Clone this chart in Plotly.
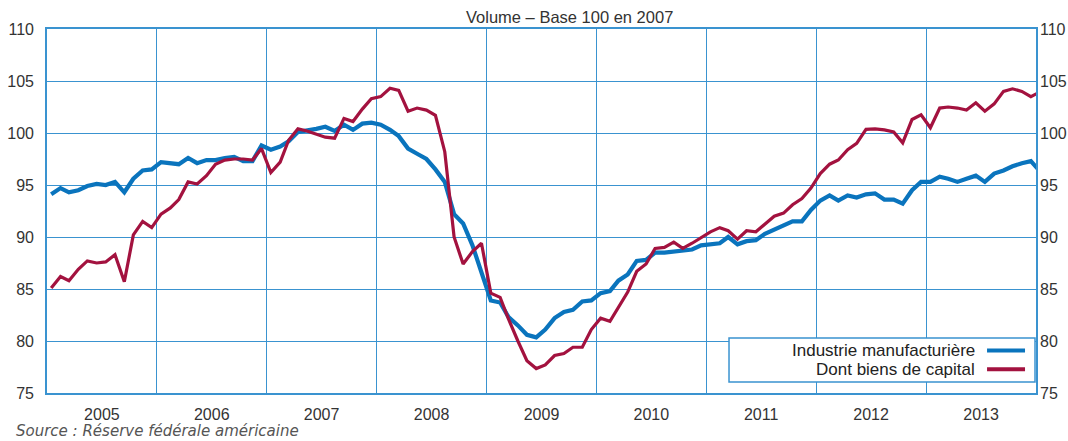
import pandas as pd
import plotly.graph_objects as go

# Monthly observations, Jan 2005 .. Jan 2014 (mid-month)
months = pd.date_range("2005-01-01", periods=109, freq="MS") + pd.Timedelta(days=14)

industrie = [
    94.1, 94.7, 94.3, 94.5, 94.9, 95.1, 95.0, 95.3, 94.3, 95.6, 96.4, 96.5,   # 2005
    97.2, 97.1, 97.0, 97.6, 97.1, 97.4, 97.4, 97.6, 97.7, 97.3, 97.3, 98.8,   # 2006
    98.4, 98.7, 99.2, 100.1, 100.2, 100.4, 100.6, 100.2, 100.8, 100.3, 100.9, 101.0,  # 2007
    100.8, 100.3, 99.7, 98.5, 98.0, 97.5, 96.5, 95.3, 92.2, 91.3, 89.2, 86.5,  # 2008
    83.9, 83.7, 82.3, 81.5, 80.6, 80.35, 81.1, 82.2, 82.8, 83.0, 83.8, 83.9,  # 2009
    84.6, 84.8, 85.8, 86.4, 87.7, 87.8, 88.5, 88.5, 88.6, 88.7, 88.8, 89.2,   # 2010
    89.3, 89.4, 90.0, 89.3, 89.6, 89.7, 90.3, 90.7, 91.1, 91.5, 91.5, 92.6,   # 2011
    93.5, 94.0, 93.5, 94.0, 93.8, 94.1, 94.2, 93.6, 93.6, 93.2, 94.5, 95.3,   # 2012
    95.3, 95.8, 95.6, 95.3, 95.6, 95.9, 95.3, 96.1, 96.4, 96.8, 97.1, 97.3,   # 2013
    96.3,                                                                     # Jan 2014
]

biens_capital = [
    85.1, 86.2, 85.8, 86.9, 87.7, 87.5, 87.6, 88.3, 85.7, 90.2, 91.5, 90.9,   # 2005
    92.2, 92.8, 93.6, 95.3, 95.1, 95.9, 97.0, 97.4, 97.5, 97.5, 97.4, 98.5,   # 2006
    96.2, 97.2, 99.3, 100.4, 100.2, 99.9, 99.6, 99.5, 101.4, 101.1, 102.3, 103.3,  # 2007
    103.5, 104.3, 104.1, 102.1, 102.4, 102.2, 101.7, 98.2, 90.0, 87.4, 88.6, 89.4,  # 2008
    84.6, 84.2, 82.1, 80.0, 78.1, 77.35, 77.7, 78.6, 78.8, 79.4, 79.4, 81.1,  # 2009
    82.2, 81.9, 83.3, 84.7, 86.7, 87.4, 88.9, 89.0, 89.5, 88.9, 89.4, 89.9,   # 2010
    90.5, 90.9, 90.6, 89.8, 90.6, 90.5, 91.2, 92.0, 92.3, 93.1, 93.7, 94.7,   # 2011
    96.1, 97.0, 97.4, 98.4, 99.0, 100.35, 100.4, 100.3, 100.1, 99.05, 101.3, 101.75,  # 2012
    100.5, 102.4, 102.5, 102.4, 102.2, 102.9, 102.1, 102.8, 104.0, 104.25, 104.0, 103.5,  # 2013
    103.95,                                                                   # Jan 2014
]

series_names = ["Industrie manufacturière", "Dont biens de capital"]
y_ticks = [75, 80, 85, 90, 95, 100, 105, 110]
title_text = "Volume \u2013 Base 100 en 2007"
source_text = "Source : Réserve fédérale américaine"

BLUE = "#0a74bd"
RED = "#a3123f"
GRID = "#3a93d0"
FONT = "Liberation Sans, Arial, sans-serif"
TXT = "#333333"

fig = go.Figure()
fig.add_trace(go.Scatter(x=months, y=industrie, mode="lines", name=series_names[0],
                         line=dict(color=BLUE, width=4.2), yaxis="y", showlegend=False))
fig.add_trace(go.Scatter(x=months, y=biens_capital, mode="lines", name=series_names[1],
                         line=dict(color=RED, width=3.2), yaxis="y2", showlegend=False))

axis_common_y = dict(range=[75, 110], tickmode="array", tickvals=y_ticks,
                     tickfont=dict(family=FONT, size=16, color=TXT), ticks="",
                     zeroline=False, fixedrange=True, automargin=False)

fig.update_layout(
    width=1068, height=441,
    margin=dict(l=47, r=32, t=29, b=48, autoexpand=False),
    paper_bgcolor="white", plot_bgcolor="white",
    showlegend=False,
    xaxis=dict(type="date", range=["2005-01-01", "2014-01-01"], dtick="M12",
               tick0="2005-01-01", tickformat="%Y", ticklabelmode="period",
               ticks="", showgrid=True, gridcolor=GRID, gridwidth=1.4,
               showline=True, linecolor=GRID, linewidth=1.6, mirror=True,
               tickfont=dict(family=FONT, size=16, color=TXT),
               ticklabelstandoff=6, zeroline=False, automargin=False),
    yaxis=dict(**axis_common_y, side="left", showgrid=True, gridcolor=GRID, gridwidth=1.4,
               showline=True, linecolor=GRID, linewidth=1.6, mirror=True,
               ticklabelstandoff=8),
    yaxis2=dict(**axis_common_y, side="right", overlaying="y", showgrid=False,
                showline=False, ticklabelstandoff=3),
)

# Title
fig.add_annotation(x=0.528, y=1.0, xref="paper", yref="paper", yanchor="bottom",
                   text=title_text, showarrow=False, yshift=1,
                   font=dict(family=FONT, size=16.5, color=TXT))

# Source
fig.add_annotation(x=-0.033, y=-0.104, xref="paper", yref="paper", xanchor="left",
                   yanchor="middle", text="<i>" + source_text + "</i>", showarrow=False,
                   font=dict(family="DejaVu Sans, Noto Sans, sans-serif", size=15, color="#555555"))

# Custom legend (text on the left, line sample on the right)
fig.add_shape(type="rect", xref="paper", yref="paper", x0=0.6896, x1=0.999,
              y0=0.030, y1=0.151, line=dict(color=GRID, width=1.5), fillcolor="white",
              layer="above")
legend_y = [0.117, 0.065]
for name, color, yy in zip(series_names, [BLUE, RED], legend_y):
    fig.add_annotation(x=0.9403, y=yy, xref="paper", yref="paper", xanchor="right",
                       yanchor="middle", text=name, showarrow=False,
                       font=dict(family=FONT, size=17, color="#222222"))
    fig.add_shape(type="line", xref="paper", yref="paper", x0=0.9505, x1=0.9889,
                  y0=yy, y1=yy, line=dict(color=color, width=4), layer="above")

fig.write_html("out.html", config={"displayModeBar": False},
               post_script="document.body.style.margin='0';document.body.style.overflow='hidden';")
